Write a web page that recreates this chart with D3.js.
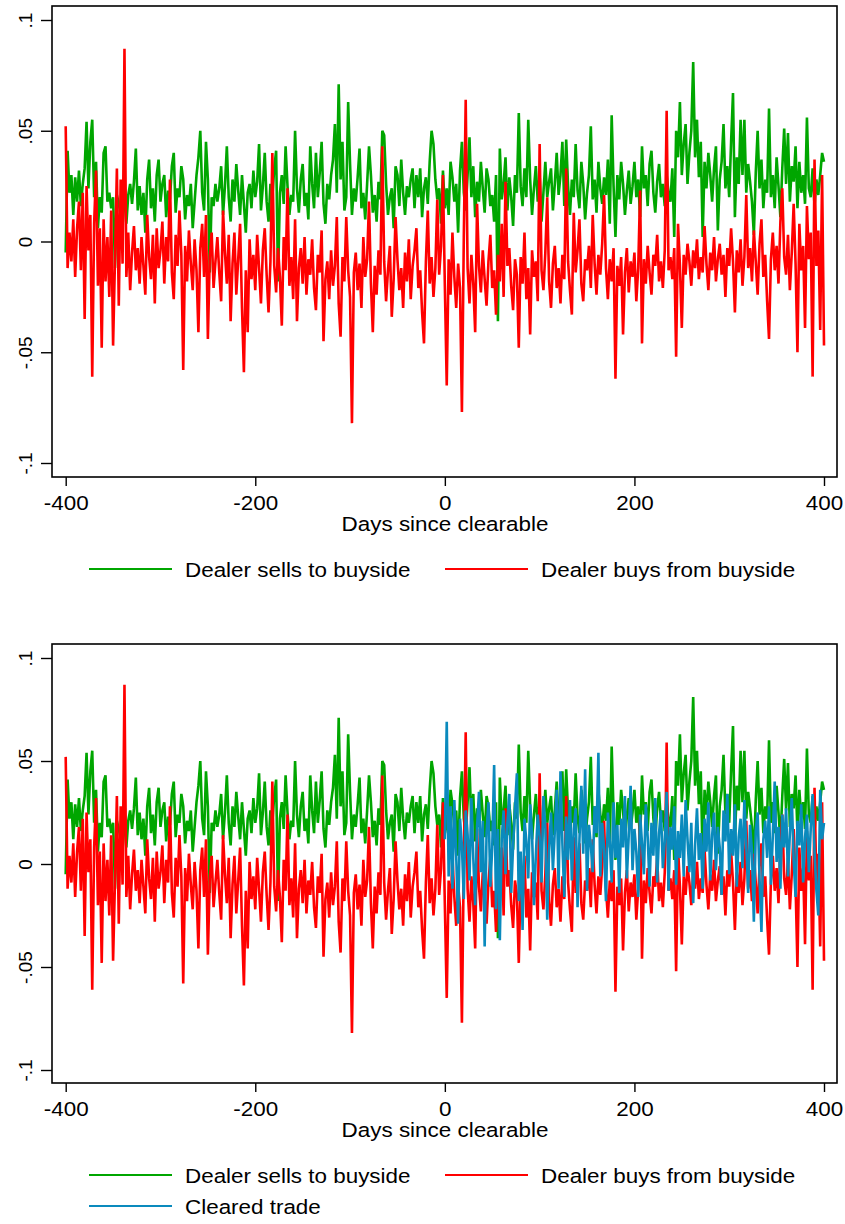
<!DOCTYPE html>
<html lang="en">
<head>
    <meta charset="UTF-8">
    <title>Dealer trades around clearability</title>
    <script src="https://cdn.jsdelivr.net/npm/d3@7"></script>
    <style>
        body {
            margin: 0;
            background-color: white;
        }
        svg {
            display: block;
            font-family: "Liberation Sans", Arial, sans-serif;
        }
    </style>
</head>
<body>
<svg id="chart" width="845" height="1224"></svg>
<script>
    // x values: one observation every second day
    const days = d3.range(-400, 401, 2);
    const clearedDays = d3.range(0, 401, 2);

    // Dealer sells to buyside (green)
    const dealerSells = [
        -.005,.041,.022,.03,.012,.029,.018,.032,.016,.026,.033,.054,.024,.045,.055,.02,.036,.006,.02,.013,
        .04,.043,.018,.022,.015,.02,-.012,.021,.017,.012,.024,.019,.008,.021,.026,.017,.027,.042,.014,.025,
        .012,.022,.004,.028,.037,.015,.024,.009,.03,.037,.018,.026,.03,.011,.023,.019,.034,.04,.013,.024,
        .02,.034,.028,.01,.021,.016,.026,.006,.018,.03,.038,.05,.022,.014,.045,.028,-.014,.02,.016,.026,
        .018,.024,.034,.012,.025,.043,.02,.009,.028,.018,.035,.023,.012,.03,.017,.004,.022,.026,.015,.032,
        .02,.027,.044,.014,.025,.04,.018,.009,.026,.02,.033,.041,-.018,.022,.03,.017,.043,.025,.012,.021,
        .018,.05,.024,.013,.028,.035,.016,.022,.01,.043,.026,.015,.04,.02,.031,.045,.017,.008,.026,.019,
        .03,.037,.053,.022,.071,.028,.045,.014,.02,.063,.035,.012,.024,.018,.029,.042,.015,.022,.01,.026,
        .043,.03,.013,.021,.009,.027,.019,.05,.048,.026,.012,.02,.024,.006,.034,.03,.016,.037,.022,.012,
        .025,.02,.028,.033,.015,.03,.02,.033,.011,.024,.029,.017,.036,.05,.044,.028,.019,.024,.008,.032,
        .015,.024,.012,.036,.029,.018,.026,.004,.032,.045,.022,.014,.03,.047,.02,.034,.011,.027,.018,.036,
        .024,.013,.033,.028,.016,.021,.009,.03,-.036,.042,.019,.026,.038,.014,.029,.02,.007,.03,.022,.058,
        .025,.016,.033,.02,.055,.028,.012,.024,.034,.018,.03,.009,.022,.036,.02,.027,.033,.014,.026,.04,
        .021,.03,.045,.016,.046,.025,.012,.028,.02,.044,.023,.015,.036,.026,.01,.022,.03,.052,.019,.028,
        .013,.036,.024,.017,.029,.021,.037,.008,.057,.025,.002,.03,.019,.036,.026,.012,.023,.032,.017,.025,
        .036,.02,.028,.011,.043,.024,.03,.016,.035,.041,.022,.013,.027,.035,.02,.026,.016,.03,.022,.018,
        .033,.002,.05,.038,.063,.03,.044,.053,.026,.04,.05,.081,.038,.055,.029,.045,.002,.036,.024,.04,
        .03,.018,.033,.043,.005,.028,.036,.053,.024,.034,.02,.045,.067,.011,.038,.026,.055,.03,.055,.022,
        .035,.027,.018,.003,.031,.05,.024,.037,.015,.028,.022,.06,.02,.03,.015,.038,.025,.011,.033,.051,
        .026,.049,.018,.034,.027,.043,.015,.036,.022,.03,.017,.056,.024,.02,.033,.016,.028,.021,.03,.04,.036
    ];

    // Dealer buys from buyside (red)
    const dealerBuys = [
        .052,-.012,.004,-.009,.01,-.016,.006,.018,-.013,.022,-.035,.025,-.004,.012,-.061,.008,.032,-.02,.006,-.048,
        .01,-.018,.002,-.025,.014,-.047,-.008,.033,-.029,.028,-.01,.087,-.016,.004,-.022,-.005,.007,-.013,-.003,-.019,
        .002,-.011,-.024,.012,-.007,-.017,.003,-.028,.006,-.012,-.004,.009,-.019,.002,-.009,.028,-.014,-.026,.003,-.011,
        .014,-.006,-.058,-.002,-.018,.005,-.01,-.022,.001,-.013,-.041,-.003,.008,-.016,.012,-.044,-.007,.004,-.021,-.009,
        .002,-.014,-.027,.014,-.005,-.019,.003,-.036,-.01,.004,-.024,-.008,.008,-.03,-.059,-.013,-.041,.001,-.017,-.006,
        -.022,.003,-.012,-.028,-.004,.006,-.015,-.032,-.009,.04,-.011,-.023,-.003,-.016,-.038,.002,-.013,.024,-.02,-.007,
        -.026,.01,-.036,-.012,-.003,-.019,.002,-.024,-.008,-.015,.001,-.021,-.031,-.006,-.014,.005,-.045,-.017,-.009,-.026,
        -.004,-.02,-.011,.011,-.028,-.043,-.007,-.018,.011,-.013,-.025,-.082,-.014,-.005,-.022,-.01,-.03,.002,-.016,-.008,
        .018,-.019,-.041,-.011,-.024,-.004,-.015,.043,-.009,-.027,-.013,-.002,-.034,-.017,.011,-.008,-.022,-.012,-.03,-.005,
        -.018,.001,-.026,-.011,-.004,.006,-.021,-.013,-.032,-.046,-.009,.014,-.019,-.007,-.025,-.012,.019,-.015,-.002,.03,
        -.02,-.065,-.008,-.024,.004,-.016,-.03,-.01,-.021,-.077,.002,.064,-.012,-.028,-.006,-.019,-.041,.017,-.011,-.023,
        -.004,-.017,-.029,-.009,.003,-.021,-.013,-.033,-.006,-.018,.008,-.025,.027,-.011,-.003,-.02,-.031,-.008,-.015,-.048,
        -.007,-.019,.004,-.026,-.012,-.042,-.004,-.016,-.009,-.027,.044,-.013,-.022,-.005,.02,-.018,-.03,-.01,-.002,-.021,
        -.012,-.028,-.006,-.017,.033,-.009,-.022,-.033,.013,-.014,-.004,.01,-.019,-.027,-.008,-.013,-.002,-.021,.012,-.01,
        -.024,-.006,-.015,-.001,.021,-.012,-.026,-.008,-.018,-.003,-.062,-.011,-.02,-.007,-.042,-.014,-.003,-.023,-.009,-.016,
        -.005,-.027,-.012,.023,-.046,-.008,-.019,-.002,-.014,-.024,-.006,-.011,.003,-.018,-.009,-.021,-.004,.059,-.013,-.007,
        -.017,-.003,-.052,.008,-.011,-.039,-.006,-.015,-.001,-.009,-.02,-.004,-.012,.001,-.017,-.007,-.014,.007,-.01,-.022,
        -.005,-.013,.002,-.018,-.008,-.001,-.015,-.006,-.025,-.003,-.011,.006,-.009,-.032,-.004,-.014,.001,-.02,-.007,.021,
        -.012,-.003,-.018,.005,-.009,-.024,-.001,.01,-.016,-.006,-.027,-.044,-.008,.004,-.013,-.002,-.019,.009,.024,-.007,
        -.015,.003,-.022,-.005,.017,-.01,-.05,.008,-.013,-.002,-.039,.016,-.008,.004,-.061,.037,-.011,.005,-.04,.03,-.047
    ];

    // Cleared trade (blue), only after clearing starts
    const cleared = [
        .012,.069,-.006,.028,-.012,.031,.004,-.029,.022,.009,-.017,.026,.014,-.008,.032,.003,-.02,.018,.035,-.004,
        .021,-.04,.015,.03,-.011,.008,.048,-.022,.017,-.037,.012,.026,-.005,.02,.034,-.014,.009,.027,.044,-.018,
        .006,-.032,.022,.011,-.007,.029,.015,-.02,.004,.024,.013,-.009,.033,.018,-.027,.007,.025,-.003,.016,.036,
        -.012,.045,.01,-.016,.023,.002,.031,-.008,.017,.027,-.021,.012,.038,.005,.046,-.013,.019,.009,-.004,.028,
        .015,.054,-.006,.02,.007,-.018,.025,.011,-.009,.03,.003,.019,-.014,.022,.008,.033,-.007,.014,.038,-.003,
        .017,.006,-.016,.024,.01,-.005,.029,.013,-.011,.02,.004,.032,-.009,.015,.026,-.002,.011,.035,-.013,.018,
        .007,.028,-.01,.016,.003,.024,-.006,.031,.012,-.004,.02,-.019,.009,.027,.002,.015,-.012,.022,.006,.03,
        -.008,.014,.025,-.003,.018,.008,-.015,.026,.011,.034,-.005,.017,.004,.029,-.011,.013,.022,-.002,.031,.009,
        -.014,.019,.006,-.028,.016,.025,-.007,-.033,.012,.021,.003,.028,-.01,.014,.04,.001,.018,-.012,.024,.008,
        .027,-.006,.015,.032,.002,-.016,.021,.009,.029,-.009,.013,.024,-.004,.017,.034,.006,-.013,-.025,.036,.012,.02
    ];

    const xTicks = [-400, -200, 0, 200, 400];
    const yTicks = [-.1, -.05, 0, .05, .1];
    const yTickLabels = ["-.1", "-.05", "0", ".05", ".1"];

    const sellsLabel = "Dealer sells to buyside";
    const buysLabel = "Dealer buys from buyside";
    const clearedLabel = "Cleared trade";

    const green = "#00a600";
    const red = "#ff0000";
    const blue = "#0a8abd";

    const svg = d3.select("#chart");
    const fontSize = 19.5;
    const stretch = 1.15; // text in the original is a bit wide

    // x scale is the same for both panels
    const x = d3.scaleLinear().domain([-400, 400]).range([65.7, 824]);

    function addText(g, px, py, label, anchor) {
        g.append("text")
            .attr("transform", `translate(${px},${py}) scale(${stretch},1)`)
            .attr("text-anchor", anchor)
            .attr("font-size", fontSize)
            .attr("fill", "black")
            .text(label);
    }

    function legendItem(g, lx, ly, color, label) {
        g.append("line")
            .attr("x1", lx).attr("x2", lx + 83)
            .attr("y1", ly).attr("y2", ly)
            .attr("stroke", color)
            .attr("stroke-width", 2.2);
        addText(g, lx + 96, ly + 8, label, "start");
    }

    function drawPanel(top, bottom, yTop, yBottom, series, legendRows) {
        const g = svg.append("g");
        const y = d3.scaleLinear().domain([-.1, .1]).range([yBottom, yTop]);

        // Lines first, then frame on top
        series.forEach(s => {
            const line = d3.line()
                .x((d, i) => x(s.days[i]))
                .y(d => y(d));
            g.append("path")
                .datum(s.values)
                .attr("fill", "none")
                .attr("stroke", s.color)
                .attr("stroke-width", 2.6)
                .attr("d", line);
        });

        g.append("rect")
            .attr("x", 52).attr("y", top)
            .attr("width", 837 - 52).attr("height", bottom - top)
            .attr("fill", "none")
            .attr("stroke", "black")
            .attr("stroke-width", 1.6);

        // y axis, labels rotated like Stata does it
        const yAxis = g.append("g")
            .attr("transform", "translate(52,0)")
            .call(d3.axisLeft(y).tickValues(yTicks).tickSize(11)
                .tickFormat((d, i) => yTickLabels[i]));
        yAxis.select(".domain").remove();
        yAxis.selectAll("line").attr("stroke-width", 1.4);
        yAxis.selectAll("text")
            .attr("x", 0).attr("y", -20).attr("dy", 0)
            .attr("transform", "rotate(-90)")
            .attr("text-anchor", "middle")
            .attr("font-size", 19)
            .attr("font-family", null)
            .attr("fill", "black");

        // x axis, plain hyphen for negatives
        const xAxis = g.append("g")
            .attr("transform", `translate(0,${bottom})`)
            .call(d3.axisBottom(x).tickValues(xTicks).tickSize(9)
                .tickFormat(d => String(d)));
        xAxis.select(".domain").remove();
        xAxis.selectAll("line").attr("stroke-width", 1.4);
        xAxis.selectAll("text")
            .attr("y", 0).attr("dy", 0)
            .attr("transform", `translate(0,33) scale(${stretch},1)`)
            .attr("font-size", fontSize)
            .attr("font-family", null)
            .attr("fill", "black");

        addText(g, 445, bottom + 54, "Days since clearable", "middle");

        // legend below
        legendRows.forEach((row, r) => {
            const ly = bottom + 92 + r * 31;
            row.forEach((item, c) => {
                legendItem(g, c === 0 ? 89 : 445, ly, item.color, item.label);
            });
        });
    }

    const sellsSeries = { days: days, values: dealerSells, color: green };
    const buysSeries = { days: days, values: dealerBuys, color: red };
    const clearedSeries = { days: clearedDays, values: cleared, color: blue };

    drawPanel(6, 477, 20, 463, [sellsSeries, buysSeries],
        [[{ label: sellsLabel, color: green }, { label: buysLabel, color: red }]]);

    drawPanel(644, 1083, 658, 1070, [sellsSeries, buysSeries, clearedSeries],
        [[{ label: sellsLabel, color: green }, { label: buysLabel, color: red }],
         [{ label: clearedLabel, color: blue }]]);
</script>
</body>
</html>
